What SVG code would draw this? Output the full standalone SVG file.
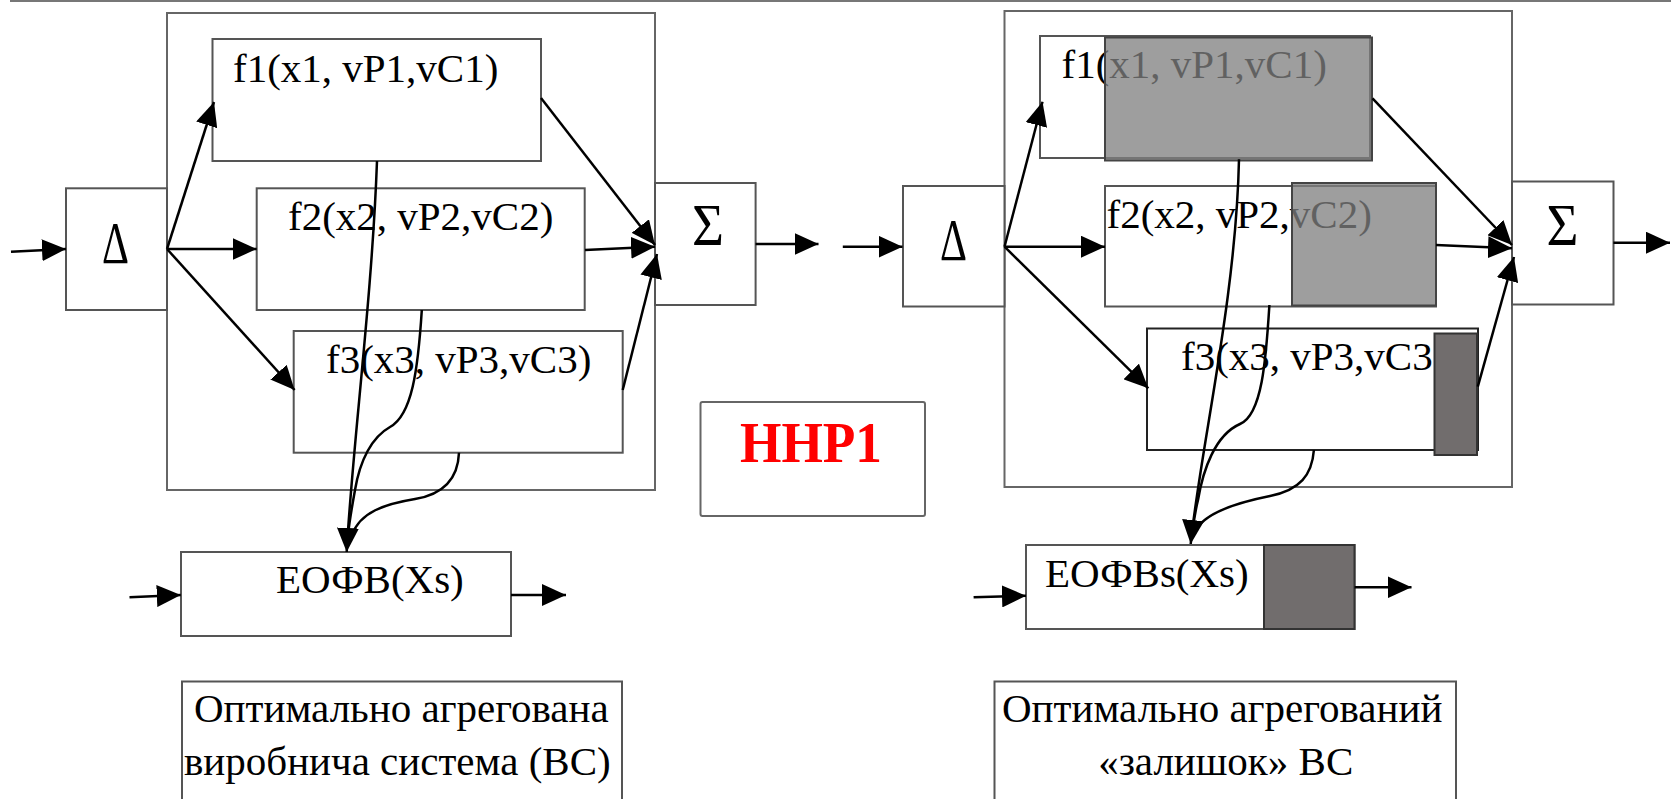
<svg xmlns="http://www.w3.org/2000/svg" width="1671" height="799" viewBox="0 0 1671 799">
<style>
.box{fill:#fff;stroke:#555;stroke-width:2}
.outer{fill:none;stroke:#666;stroke-width:2}
.t{font-family:"Liberation Serif","Times New Roman",serif;font-size:41px;fill:#000}
.sym{font-family:"Liberation Serif","Times New Roman",serif;font-size:60px;fill:#000}
.c{fill:none;stroke:#000;stroke-width:2.5}
.gray{fill:#7f7f7f;fill-opacity:0.76;stroke:#444;stroke-width:2}
.dark{fill:#716d6d;stroke:#333;stroke-width:2}
</style>
<defs>
<marker id="ah" viewBox="0 0 24 22" refX="24" refY="11" markerWidth="24" markerHeight="22" markerUnits="userSpaceOnUse" orient="auto">
<path d="M0,0 L24,11 L0,22 z" fill="#000"/>
</marker>
</defs>
<rect width="1671" height="799" fill="#fff"/>
<path d="M10,1 L1671,1" stroke="#777" stroke-width="2"/>

<!-- Left system -->
<g id="outer-left"><rect class="outer" x="167" y="13" width="488" height="477"/></g>
<g id="f1-left"><rect class="box" x="212.5" y="39" width="328.5" height="122"/><text class="t" x="233" y="82">f1(x1, vP1,vC1)</text></g>
<g id="f2-left"><rect class="box" x="256.7" y="188.3" width="328" height="121.7"/><text class="t" x="288" y="230">f2(x2, vP2,vC2)</text></g>
<g id="f3-left"><rect class="box" x="293.7" y="331" width="329" height="121.7"/><text class="t" x="326" y="373">f3(x3, vP3,vC3)</text></g>
<g id="delta-left"><rect class="box" x="66" y="188.3" width="101" height="121.7"/><text class="sym" x="102" y="263" textLength="27" lengthAdjust="spacingAndGlyphs">Δ</text></g>
<g id="sigma-left"><rect class="box" x="655" y="183" width="100.6" height="122"/><text class="sym" x="692" y="245" textLength="32" lengthAdjust="spacingAndGlyphs">Σ</text></g>
<g id="eofv-left"><rect class="box" x="181" y="552" width="330" height="84"/><text class="t" x="276" y="593">ЕОФВ(Xs)</text></g>
<g id="label-left"><rect class="box" x="182" y="681.5" width="440" height="130"/><text class="t" x="194" y="721.7">Оптимально агрегована</text><text class="t" x="184" y="775">виробнича система (ВС)</text></g>
<g id="hhp1"><rect x="700.5" y="402" width="224.5" height="114" rx="2" fill="#fff" stroke="#666" stroke-width="2"/><text x="740" y="461.7" font-family="'Liberation Serif','Times New Roman',serif" font-weight="bold" font-size="56" fill="#f00" textLength="142" lengthAdjust="spacingAndGlyphs">HHP1</text></g>

<!-- Right system -->
<g id="outer-right"><rect class="outer" x="1004.5" y="11" width="507.5" height="476"/></g>
<g id="f1-right"><rect class="box" x="1040" y="36" width="330" height="122"/><text class="t" x="1061.5" y="78">f1(x1, vP1,vC1)</text><rect class="gray" x="1105" y="37.5" width="267" height="123"/></g>
<g id="f2-right"><rect class="box" x="1105" y="186" width="331" height="120.5"/><text class="t" x="1106.5" y="228">f2(x2, vP2,vC2)</text><rect class="gray" x="1292" y="183" width="144" height="122.5"/></g>
<g id="f3-right"><rect class="box" x="1147" y="328.5" width="331" height="121.5" style="stroke:#222"/><text class="t" x="1181" y="370">f3(x3, vP3,vC3</text><rect class="dark" x="1434.5" y="333.5" width="42.5" height="121.5"/></g>
<g id="delta-right"><rect class="box" x="903" y="186" width="101.5" height="120.5"/><text class="sym" x="940" y="260" textLength="27" lengthAdjust="spacingAndGlyphs">Δ</text></g>
<g id="sigma-right"><rect class="box" x="1512" y="181.5" width="101.5" height="123"/><text class="sym" x="1546.5" y="245" textLength="32" lengthAdjust="spacingAndGlyphs">Σ</text></g>
<g id="eofv-right"><rect class="box" x="1026" y="545" width="328.5" height="84"/><rect class="dark" x="1264" y="545" width="90.5" height="84"/><text class="t" x="1045" y="586.7">ЕОФВs(Xs)</text></g>
<g id="label-right"><rect class="box" x="994.5" y="681.5" width="461.5" height="130"/><text class="t" x="1002" y="721.7">Оптимально агрегований</text><text class="t" x="1225.7" y="775" text-anchor="middle">«залишок» ВС</text></g>

<g id="connectors">
<path class="c" d="M11,251.7 L66,249" marker-end="url(#ah)"/>
<path class="c" d="M167,249 L214,102" marker-end="url(#ah)"/>
<path class="c" d="M167,249 L256.7,249" marker-end="url(#ah)"/>
<path class="c" d="M167,249 L294.6,390" marker-end="url(#ah)"/>
<path class="c" d="M541,98 L655,245" marker-end="url(#ah)"/>
<path class="c" d="M585,250 L655,246.7" marker-end="url(#ah)"/>
<path class="c" d="M622.7,390 L657,254" marker-end="url(#ah)"/>
<path class="c" d="M755.6,244 L818.5,244" marker-end="url(#ah)"/>
<path class="c" d="M377,161 C 372,300 352,450 346.7,552" marker-end="url(#ah)"/>
<path class="c" d="M421.8,310 C 418,370 412,415 390,427 C 372,437 360,460 355,490 C 351,512 349,525 348,535"/>
<path class="c" d="M459,452.7 C 458,478 445,494 415,499 C 385,504 360,512 352,535"/>
<path class="c" d="M129.5,597.3 L180.8,595" marker-end="url(#ah)"/>
<path class="c" d="M511,595 L566,595" marker-end="url(#ah)"/>

<path class="c" d="M842.8,246.7 L902.5,246.7" marker-end="url(#ah)"/>
<path class="c" d="M1004.5,246.7 L1042.5,101.7" marker-end="url(#ah)"/>
<path class="c" d="M1004.5,246.7 L1105,246.7" marker-end="url(#ah)"/>
<path class="c" d="M1004.5,246.7 L1148.3,388.3" marker-end="url(#ah)"/>
<path class="c" d="M1372.5,98.3 L1512,245" marker-end="url(#ah)"/>
<path class="c" d="M1436,245 L1512,248.3" marker-end="url(#ah)"/>
<path class="c" d="M1477.8,386.7 L1514,257" marker-end="url(#ah)"/>
<path class="c" d="M1613.4,242.7 L1670,242.7" marker-end="url(#ah)"/>
<path class="c" d="M1239,159.3 C 1236,300 1200,450 1190.7,544" marker-end="url(#ah)"/>
<path class="c" d="M1269.4,305 C 1266,360 1262,415 1240,424 C 1215,435 1203,470 1198,500 C 1195,512 1194,520 1193,528"/>
<path class="c" d="M1313.9,450 C 1312,475 1300,490 1270,496 C 1235,503 1205,513 1196,530"/>
<path class="c" d="M973.6,597.3 L1026,595.7" marker-end="url(#ah)"/>
<path class="c" d="M1354.6,587.3 L1411.5,587.3" marker-end="url(#ah)"/>
</g>
</svg>
